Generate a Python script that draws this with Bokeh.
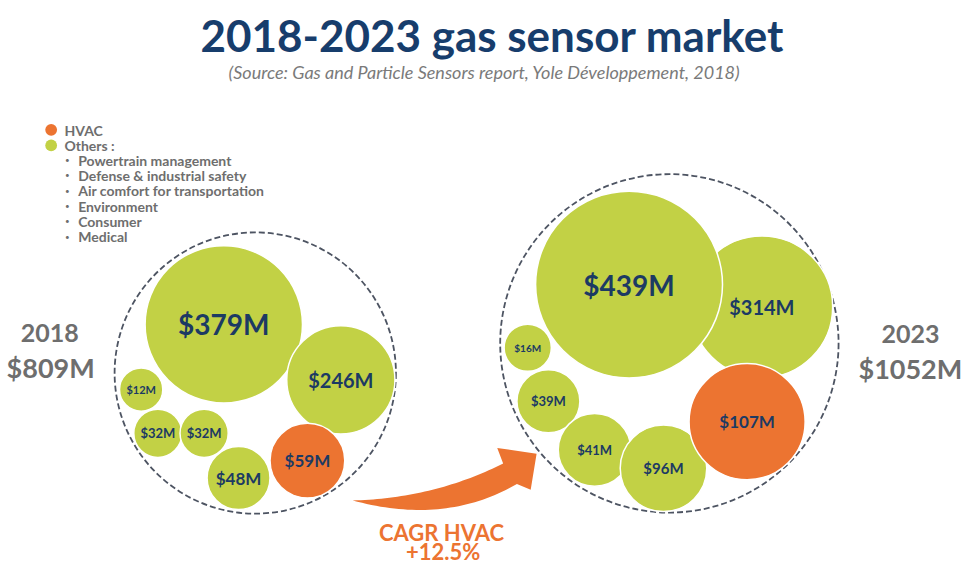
from bokeh.plotting import figure
from bokeh.models import Range1d
from bokeh.core.properties import value
from bokeh.embed import file_html
from bokeh.resources import INLINE
import numpy as np

# ---------------- data ----------------
title = "2018-2023 gas sensor market"
subtitle = "(Source: Gas and Particle Sensors report, Yole Développement, 2018)"

years = ["2018", "2023"]
totals = [809, 1052]

segments_2018 = ["Others", "Others", "Others", "Others", "Others", "Others", "HVAC"]
values_2018 = [379, 246, 12, 32, 32, 48, 59]

segments_2023 = ["Others", "Others", "Others", "Others", "Others", "Others", "HVAC"]
values_2023 = [314, 439, 16, 39, 41, 96, 107]

cagr_label = "CAGR  HVAC"
cagr_hvac = 12.5

legend_groups = ["HVAC", "Others :"]
legend_others = ["Powertrain management", "Defense & industrial safety",
                 "Air comfort for transportation", "Environment", "Consumer", "Medical"]

# ---------------- layout (reference-pixel coordinates) ----------------
lay18_x = [227, 346, 143, 160, 207, 242, 312]
lay18_y = [333, 390, 400, 445, 445, 491, 473]
lay18_r = [80, 55, 22, 24.5, 24.5, 32, 38]
lay18_fs = [28, 20, 11, 13, 13, 17, 17]

lay23_x = [774, 639, 536, 557, 604, 674, 759]
lay23_y = [315, 292, 357, 412, 462, 481, 433]
lay23_r = [72, 95, 24, 32, 37, 44, 59]
lay23_fs = [20, 28, 10, 13, 13, 15, 17]

GREEN = "#c2d145"
ORANGE = "#ec7431"
NAVY = "#1c3a63"
GREY = "#6e6e6e"

W, H = 963, 569
p = figure(width=W, height=H, output_backend="svg", toolbar_location=None,
           x_range=Range1d(0, 979), y_range=Range1d(585, 0),
           min_border=0)
p.axis.visible = False
p.grid.visible = False
p.outline_line_color = None
p.background_fill_color = "white"

FONT = value("Lato")

def col(seg):
    return [ORANGE if s == "HVAC" else GREEN for s in seg]

# title
p.text(x=[500], y=[35], text=[title], text_align="center", text_baseline="middle",
       text_font=FONT, text_font_style="bold", text_font_size="44px", text_color="#173d6c")
p.text(x=[492], y=[73], text=[subtitle], text_align="center", text_baseline="middle",
       text_font=FONT, text_font_style="italic", text_font_size="18px", text_color="#7a7a7a")

# legend
p.circle(x=[51.5, 51.5], y=[133, 149], radius=6, fill_color=[ORANGE, GREEN], line_color=None)
p.text(x=[65, 65], y=[133.5, 149.5], text=legend_groups, text_align="left", text_baseline="middle",
       text_font=FONT, text_font_style="bold", text_font_size="14px", text_color=GREY)
ly = [164 + 15.8 * i for i in range(len(legend_others))]
p.text(x=[68] * len(ly), y=ly, text=["•"] * len(ly), text_align="center", text_baseline="middle",
       text_font=FONT, text_font_size="8px", text_color=GREY)
p.text(x=[79] * len(ly), y=ly, text=legend_others, text_align="left", text_baseline="middle",
       text_font=FONT, text_font_style="bold", text_font_size="14px", text_color=GREY)

# dashed enclosing circles
p.circle(x=[259, 680], y=[383, 352.5], radius=[143, 172], fill_color=None,
         line_color="#4d5462", line_width=1.8, line_dash="6 3")

# bubbles
for lx, lyy, lr, fs, seg, vals in [(lay18_x, lay18_y, lay18_r, lay18_fs, segments_2018, values_2018),
                                   (lay23_x, lay23_y, lay23_r, lay23_fs, segments_2023, values_2023)]:
    p.circle(x=lx, y=lyy, radius=lr, fill_color=col(seg), line_color="white", line_width=1.5)
    p.text(x=lx, y=lyy, text=[f"${v}M" for v in vals], text_align="center", text_baseline="middle",
           text_font=FONT, text_font_style="bold", text_font_size=[f"{f}px" for f in fs],
           text_color=NAVY)

# year labels
p.text(x=[50, 925], y=[342, 343], text=years, text_align="center", text_baseline="middle",
       text_font=FONT, text_font_style="bold", text_font_size="25px", text_color=GREY)
p.text(x=[51, 925], y=[377, 378], text=[f"${t}M" for t in totals], text_align="center",
       text_baseline="middle", text_font=FONT, text_font_style="bold", text_font_size="27px",
       text_color=GREY)

# curved arrow
def qbez(p0, p1, p2, n=40):
    t = np.linspace(0, 1, n)[:, None]
    return (1 - t) ** 2 * np.array(p0) + 2 * (1 - t) * t * np.array(p1) + t ** 2 * np.array(p2)

tail = (358, 514)
top = qbez(tail, (440, 512), (511, 476))
bot = qbez(tail, (452, 540), (525, 497))
head = np.array([(505, 460), (545, 466), (539, 503)])
pts = np.vstack([top, head, bot[::-1]])
p.patch(x=pts[:, 0], y=pts[:, 1], fill_color=ORANGE, line_color=None)

p.text(x=[451, 450], y=[547, 567], text=[cagr_label, f"+{cagr_hvac}%"], text_align="center",
       text_baseline="middle", text_font=FONT, text_font_style="bold", text_font_size="22px",
       text_color=ORANGE)

open("out.html", "w").write(file_html(p, INLINE))
